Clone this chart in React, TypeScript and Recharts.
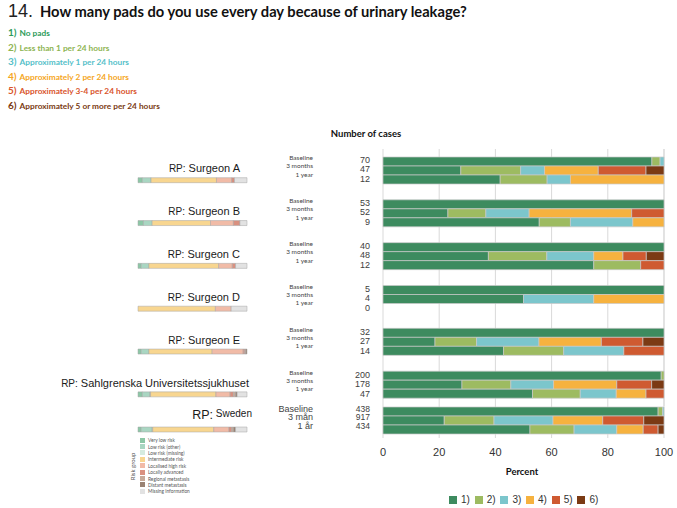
import { BarChart, Bar, XAxis, YAxis, CartesianGrid, Legend } from "recharts";

const groups = [
  "Surgeon A",
  "Surgeon B",
  "Surgeon C",
  "Surgeon D",
  "Surgeon E",
  "Sahlgrenska Universitetssjukhuset",
  "Sweden",
];
const periodLabels = ["Baseline", "3 months", "1 year"];
const swedenPeriodLabels = ["Baseline", "3 mån", "1 år"];

const answerLabels = ["1)", "2)", "3)", "4)", "5)", "6)"];
const answerTexts = [
  "No pads",
  "Less than 1 per 24 hours",
  "Approximately 1 per 24 hours",
  "Approximately 2 per 24 hours",
  "Approximately 3-4 per 24 hours",
  "Approximately 5 or more per 24 hours",
];
const answerColors = ["#3d8b5f", "#9dbb61", "#7cc6cc", "#f6b23f", "#cf5a31", "#7b3a14"];
const answerTextColors = ["#2d9b5b", "#8db452", "#56bfc9", "#f5a623", "#d9542c", "#7a3a12"];

const casesBaseline = [70, 53, 40, 5, 32, 200, 438];
const cases3Months = [47, 52, 48, 4, 27, 178, 917];
const cases1Year = [12, 9, 12, 0, 14, 47, 434];

// percent answering 1)..6), one row per group
const baselinePct = [
  [95.7, 2.9, 1.4, 0, 0, 0],
  [100, 0, 0, 0, 0, 0],
  [100, 0, 0, 0, 0, 0],
  [100, 0, 0, 0, 0, 0],
  [100, 0, 0, 0, 0, 0],
  [99, 1, 0, 0, 0, 0],
  [97.9, 1.6, 0.5, 0, 0, 0],
];
const months3Pct = [
  [27.7, 21.3, 8.5, 19.1, 17.0, 6.4],
  [23.1, 13.5, 15.4, 36.5, 11.5, 0],
  [37.5, 20.8, 16.7, 10.4, 8.3, 6.3],
  [50, 0, 25, 25, 0, 0],
  [18.5, 14.8, 22.2, 22.2, 14.8, 7.5],
  [28.1, 17.4, 15.2, 22.5, 12.4, 4.4],
  [21.8, 17.7, 21.0, 17.7, 14.6, 7.2],
];
const year1Pct = [
  [41.7, 16.7, 8.3, 33.3, 0, 0],
  [55.6, 11.1, 22.2, 11.1, 0, 0],
  [75, 16.7, 0, 0, 8.3, 0],
  [0, 0, 0, 0, 0, 0],
  [42.9, 21.4, 21.4, 0, 14.3, 0],
  [53.2, 17.0, 12.8, 10.6, 6.4, 0],
  [52.3, 15.7, 15.2, 9.4, 5.3, 2.1],
];

// risk group distribution (percent), one value per group
const riskLabels = [
  "Very low risk",
  "Low risk (other)",
  "Low risk (missing)",
  "Intermediate risk",
  "Localised high risk",
  "Locally advanced",
  "Regional metastasis",
  "Distant metastasis",
  "Missing information",
];
const riskColors = ["#8cc7a6", "#a9d6c2", "#d5ebdf", "#f8d690", "#f1bba7", "#d9907f", "#c7aa99", "#9a8273", "#e2e2e2"];
const veryLow = [4, 5, 3, 0, 3, 4, 3];
const lowOther = [8, 8, 7, 0, 7, 7, 10];
const lowMissing = [0, 0, 0, 0, 0, 0.5, 0.5];
const intermediate = [60, 53.5, 64, 71, 58, 60, 56];
const highLocal = [14, 21, 12.5, 14.5, 28.5, 13, 14];
const locAdvanced = [2.5, 6, 3, 0, 1.5, 3, 2.5];
const regional = [0, 0, 0, 0, 1, 2, 1.5];
const distant = [0, 0, 0, 0, 1, 1.5, 2];
const missingInfo = [11.5, 6.5, 10.5, 14.5, 0, 9, 10.5];
const riskSeries = [veryLow, lowOther, lowMissing, intermediate, highLocal, locAdvanced, regional, distant, missingInfo];

const rows = groups.map((g, i) => {
  const row: Record<string, any> = { name: g };
  for (let k = 0; k < 6; k++) {
    row[`b${k}`] = baselinePct[i][k];
    row[`m${k}`] = months3Pct[i][k];
    row[`y${k}`] = year1Pct[i][k];
  }
  return row;
});

const riskRows = groups.map((g, i) => {
  const row: Record<string, any> = { name: g };
  riskSeries.forEach((s, k) => (row[`r${k}`] = s[i]));
  return row;
});

const font = "'Liberation Sans', Arial, sans-serif";
const narrow = "Lato, 'Open Sans', sans-serif";

const answerBars = () =>
  ["b", "m", "y"].flatMap((p) =>
    answerLabels.map((lab, k) => (
      <Bar
        key={p + k}
        dataKey={`${p}${k}`}
        name={lab}
        stackId={p}
        fill={answerColors[k]}
        stroke="#c9c9c9"
        strokeWidth={0.7}
        legendType={p === "b" ? "square" : "none"}
        isAnimationActive={false}
      />
    ))
  );

const riskBars = () =>
  riskLabels.map((lab, k) => (
    <Bar
      key={lab}
      dataKey={`r${k}`}
      name={lab}
      stackId="r"
      fill={riskColors[k]}
      stroke="#a5a5a5"
      strokeWidth={0.5}
      isAnimationActive={false}
    />
  ));

// keep one legend entry per name, in the order of the given labels
const pickEntries = (payload: any[], labels: string[]) =>
  labels
    .map((l) => (payload || []).find((e: any) => e.value === l))
    .filter(Boolean);

const GroupTick = (props: any) => {
  const { y, payload } = props;
  const i = groups.indexOf(payload.value);
  const sweden = i === groups.length - 1;
  const long = String(payload.value).length > 20;
  const labels = sweden ? swedenPeriodLabels : periodLabels;
  const counts = [casesBaseline[i], cases3Months[i], cases1Year[i]];
  const periodDy = sweden ? [-11.5, -3, 6] : [-12.5, -4.5, 4];
  const countDy = sweden ? [-11.5, -3, 6] : [-10, -1, 9];
  return (
    <g>
      <text
        x={sweden ? 252 : long ? 249 : 240}
        y={y - (sweden ? 5 : 2)}
        textAnchor="end"
        dominantBaseline="central"
        fill="#1a1a1a"
        fontFamily={font}
      >
        <tspan fontSize={sweden ? 12.5 : 10}>RP:</tspan>
        <tspan fontSize={sweden ? 10 : 11} dy={sweden ? -2 : 0}>
          {" " + payload.value}
        </tspan>
      </text>
      {labels.map((l, k) => (
        <text
          key={l}
          x={313}
          y={y + periodDy[k]}
          textAnchor="end"
          dominantBaseline="central"
          fontSize={sweden ? 9 : 6.5}
          fontFamily={sweden ? font : narrow}
          fill="#444"
        >
          {l}
        </text>
      ))}
      {counts.map((c, k) => (
        <text
          key={k}
          x={370}
          y={y + countDy[k]}
          textAnchor="end"
          dominantBaseline="central"
          fontSize={sweden ? 8.5 : 9}
          fontFamily={font}
          fill="#404040"
        >
          {c}
        </text>
      ))}
    </g>
  );
};

const AnswerLegend = (p: any) => (
  <div style={{ display: "flex", fontSize: 10, color: "#333", fontFamily: font }}>
    {pickEntries(p.payload, answerLabels).map((e: any) => (
      <div key={e.value} style={{ display: "flex", alignItems: "center", width: 25.7 }}>
        <span style={{ width: 8, height: 8, background: e.color, marginRight: 4, display: "inline-block" }} />
        <span>{e.value}</span>
      </div>
    ))}
  </div>
);

const RiskLegend = (p: any) => (
  <div style={{ fontFamily: narrow, fontSize: 4.8, color: "#555" }}>
    {pickEntries(p.payload, riskLabels).map((e: any) => (
      <div key={e.value} style={{ display: "flex", alignItems: "center", height: 6.4, whiteSpace: "nowrap" }}>
        <span style={{ width: 5, height: 5, background: e.color, marginRight: 3, display: "inline-block" }} />
        <span>{e.value}</span>
      </div>
    ))}
  </div>
);

const xTicks = [0, 20, 40, 60, 80, 100];
const abs = (left: number, top: number): React.CSSProperties => ({ position: "absolute", left, top });

export default function App() {
  return (
    <div
      style={{
        position: "absolute",
        left: 0,
        top: 0,
        width: 677,
        height: 508,
        background: "#fff",
        overflow: "hidden",
        fontFamily: font,
      }}
    >
      <div style={{ ...abs(8, 1), display: "flex", alignItems: "baseline", whiteSpace: "nowrap" }}>
        <span style={{ fontSize: 18, color: "#222", marginRight: 7 }}>14.</span>
        <span style={{ fontSize: 14.7, fontWeight: 700, color: "#111", fontFamily: narrow }}>
          How many pads do you use every day because of urinary leakage?
        </span>
      </div>
      {answerTexts.map((t, k) => (
        <div
          key={t}
          style={{
            ...abs(8, 26 + k * 14.6),
            display: "flex",
            alignItems: "baseline",
            whiteSpace: "nowrap",
            color: answerTextColors[k],
            fontFamily: narrow,
            fontWeight: 700,
          }}
        >
          <span style={{ fontSize: 10, marginRight: 3 }}>{answerLabels[k]}</span>
          <span style={{ fontSize: 8.3 }}>{t}</span>
        </div>
      ))}
      <div style={{ ...abs(316, 128), width: 100, textAlign: "center", fontSize: 9.5, fontWeight: 700, fontFamily: narrow, color: "#111" }}>
        Number of cases
      </div>

      <div style={abs(0, 0)}>
        <BarChart
          width={677}
          height={420}
          data={rows.slice(0, 6)}
          layout="vertical"
          barSize={9}
          barGap={0}
          margin={{ top: 149, right: 13, bottom: 14, left: 0 }}
        >
          <CartesianGrid horizontal={false} stroke="#d9d9d9" />
          <XAxis type="number" domain={[0, 100]} ticks={xTicks} hide />
          <YAxis
            type="category"
            dataKey="name"
            width={383}
            axisLine={false}
            tickLine={false}
            interval={0}
            tick={(p: any) => <GroupTick {...p} />}
          />
          {answerBars()}
        </BarChart>
      </div>

      <div style={abs(0, 0)}>
        <BarChart
          width={677}
          height={508}
          data={rows.slice(6)}
          layout="vertical"
          barSize={9}
          barGap={0}
          margin={{ top: 406, right: 13, bottom: 0, left: 0 }}
        >
          <CartesianGrid horizontal={false} stroke="#d9d9d9" />
          <XAxis
            type="number"
            domain={[0, 100]}
            ticks={xTicks}
            axisLine={false}
            tickLine={{ stroke: "#d9d9d9" }}
            tickSize={4}
            tickMargin={10}
            height={74}
            tick={{ fontSize: 11, fill: "#333" }}
          />
          <YAxis
            type="category"
            dataKey="name"
            width={383}
            axisLine={false}
            tickLine={false}
            interval={0}
            tick={(p: any) => <GroupTick {...p} />}
          />
          {answerBars()}
          <Legend
            layout="horizontal"
            align="center"
            verticalAlign="middle"
            content={(p: any) => <AnswerLegend {...p} />}
            wrapperStyle={{ left: 449, top: 494, width: 170, height: 10 }}
          />
        </BarChart>
      </div>

      <div style={abs(0, 0)}>
        <BarChart
          width={260}
          height={430}
          data={riskRows.slice(0, 6)}
          layout="vertical"
          barSize={5}
          margin={{ top: 158.7, right: 13, bottom: 14.3, left: 138 }}
        >
          <XAxis type="number" domain={[0, 100]} hide />
          <YAxis type="category" dataKey="name" hide />
          {riskBars()}
        </BarChart>
      </div>

      <div style={abs(0, 0)}>
        <BarChart
          width={260}
          height={508}
          data={riskRows.slice(6)}
          layout="vertical"
          barSize={5}
          margin={{ top: 424, right: 13, bottom: 74, left: 138 }}
        >
          <XAxis type="number" domain={[0, 100]} hide />
          <YAxis type="category" dataKey="name" hide />
          {riskBars()}
          <Legend
            layout="horizontal"
            align="center"
            verticalAlign="middle"
            content={(p: any) => <RiskLegend {...p} />}
            wrapperStyle={{ left: 140, top: 437, width: 100, height: 58 }}
          />
        </BarChart>
      </div>

      <div
        style={{
          ...abs(112, 463),
          width: 40,
          textAlign: "center",
          fontSize: 6,
          color: "#555",
          fontFamily: narrow,
          transform: "rotate(-90deg)",
        }}
      >
        Risk group
      </div>
      <div style={{ ...abs(472, 466), width: 100, textAlign: "center", fontSize: 9.5, fontWeight: 700, fontFamily: narrow, color: "#111" }}>
        Percent
      </div>
    </div>
  );
}
